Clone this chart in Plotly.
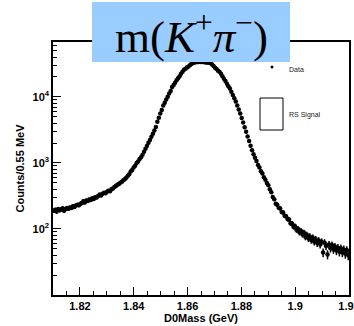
import numpy as np
import plotly.graph_objects as go

# ---- data ----
bin_low = 1.81          # GeV, first bin edge
bin_width = 0.00055     # GeV (0.55 MeV)
counts = [
    188, 196, 183, 201, 192, 198, 205, 189, 200, 207,
    203, 212, 208, 221, 215, 226, 232, 229, 241, 248,
    262, 251, 270, 266, 280, 275, 291, 284, 302, 298,
    315, 331, 322, 340, 352, 346, 365, 378, 372, 398,
    410, 432, 445, 466, 480, 502, 520, 548, 566, 595,
    636, 672, 738, 779, 851, 903, 992, 1048, 1142, 1215,
    1330, 1480, 1640, 1820, 2010, 2230, 2480, 2760, 3100, 3500,
    4200, 4810, 5600, 6310, 7400, 8130, 9100, 10000, 11200, 12300,
    14060, 15100, 16400, 17800, 19050, 20400, 22400, 24000, 25600, 26500,
    27800, 28800, 30000, 31300, 32400, 33000, 33300, 33600, 33700, 33800,
    33800, 33700, 33500, 33200, 33000, 32700, 32300, 30900, 29200, 27500,
    26300, 24900, 23900, 22400, 20400, 18800, 17300, 15800, 14500, 13400,
    11900, 10700, 9550, 8500, 7400, 6450, 5600, 4800, 4070, 3470,
    2950, 2510, 2140, 1820, 1550, 1350, 1200, 1070, 930, 850,
    750, 690, 605, 556, 495, 458, 398, 360, 305, 281,
    241, 233, 209, 204, 181, 178, 158, 156, 141, 139,
    122, 121, 108, 110, 97, 101, 89, 94, 83, 88,
    76, 82, 72, 77, 68, 74, 64, 70, 61, 67,
    58, 64, 44, 62, 55, 41, 58, 51, 57, 49,
    54, 47, 52, 45, 51, 44, 49, 42, 48, 40,
]
x_tick_vals = [1.82, 1.84, 1.86, 1.88, 1.90, 1.92]
x_tick_text = ["1.82", "1.84", "1.86", "1.88", "1.9", "1.92"]
y_tick_vals = [100, 1000, 10000]
y_tick_text = ["10<sup>2</sup>", "10<sup>3</sup>", "10<sup>4</sup>"]

title_text = "m(<i>K</i><sup>+</sup><i>π</i><sup>−</sup>)"
x_title = "D0Mass (GeV)"
y_title = "Counts/0.55 MeV"
legend_labels = ["Data", "RS Signal"]

counts_arr = np.array(counts, dtype=float)
mass = bin_low + bin_width * (np.arange(len(counts)) + 0.5)
errs = np.sqrt(counts_arr)

# ---- layout geometry ----
W, H = 354, 326
L, R, T, B = 53, 5, 42, 31
pw, ph = W - L - R, H - T - B


def px_x(p):
    return (p - L) / pw


def px_y(p):
    return (H - B - p) / ph


def bold(s):
    return "<b>" + s + "</b>"


minor_vals = [m * 10 ** d for d in range(1, 5) for m in range(2, 10)]

fig = go.Figure()
fig.add_trace(go.Scatter(
    x=mass, y=counts_arr, mode="markers",
    marker=dict(size=4.5, color="black"),
    error_y=dict(type="data", array=errs, thickness=1.5, width=0, color="black"),
    error_x=dict(type="constant", value=bin_width / 2, thickness=1.5, width=0, color="black"),
    showlegend=False, hoverinfo="skip",
))

axis_font = dict(family="Liberation Sans, Arial, sans-serif", size=11, color="black")

fig.update_layout(
    width=W, height=H,
    margin=dict(l=L, r=R, t=T, b=B, pad=0, autoexpand=False),
    paper_bgcolor="white", plot_bgcolor="white",
    showlegend=False,
    xaxis=dict(
        range=[1.81, 1.92], automargin=False,
        tickmode="array", tickvals=x_tick_vals, ticktext=[bold(t) for t in x_tick_text],
        ticks="inside", ticklen=8, tickwidth=1, tickcolor="black",
        ticklabeloverflow="allow",
        minor=dict(ticks="inside", ticklen=4, tickwidth=1, tickcolor="black", dtick=0.005, tick0=1.8, showgrid=False),
        showline=True, linecolor="black", linewidth=1.5, mirror=True,
        showgrid=False, zeroline=False,
        tickfont=axis_font,
        title=dict(text=bold(x_title), font=axis_font, standoff=2),
    ),
    yaxis=dict(
        type="log", range=[1.0, 4.83], automargin=False,
        tickmode="array", tickvals=y_tick_vals, ticktext=[bold(t) for t in y_tick_text],
        ticks="inside", ticklen=8, tickwidth=1, tickcolor="black",
        minor=dict(ticks="inside", ticklen=4, tickwidth=1, tickcolor="black",
                   tickmode="array", tickvals=minor_vals, showgrid=False),
        showline=True, linecolor="black", linewidth=1.5, mirror=True,
        showgrid=False, zeroline=False,
        tickfont=axis_font,
        title=dict(text=bold(y_title), font=axis_font, standoff=6),
    ),
)

# title box
fig.add_shape(type="rect", xref="paper", yref="paper",
              x0=px_x(92), x1=px_x(290), y0=px_y(62), y1=px_y(2),
              fillcolor="#99CCFF", line=dict(width=0), layer="above")
fig.add_annotation(xref="paper", yref="paper", x=px_x(191), y=px_y(33),
                   text=title_text, showarrow=False, xanchor="center", yanchor="middle",
                   font=dict(family="Liberation Serif, Times New Roman, serif", size=45, color="black"))

# legend
fig.add_shape(type="circle", xref="paper", yref="paper",
              x0=px_x(270.5), x1=px_x(273.5), y0=px_y(68.5), y1=px_y(65.5),
              fillcolor="black", line=dict(width=0))
fig.add_shape(type="rect", xref="paper", yref="paper",
              x0=px_x(260), x1=px_x(283), y0=px_y(130), y1=px_y(98),
              fillcolor="rgba(0,0,0,0)", line=dict(color="black", width=1))
leg_font = dict(family="Liberation Sans, Arial, sans-serif", size=7, color="#222")
fig.add_annotation(xref="paper", yref="paper", x=px_x(287), y=px_y(69), text=legend_labels[0],
                   showarrow=False, xanchor="left", yanchor="middle", font=leg_font)
fig.add_annotation(xref="paper", yref="paper", x=px_x(287), y=px_y(115), text=legend_labels[1],
                   showarrow=False, xanchor="left", yanchor="middle", font=leg_font)

fig.write_html("out.html")
